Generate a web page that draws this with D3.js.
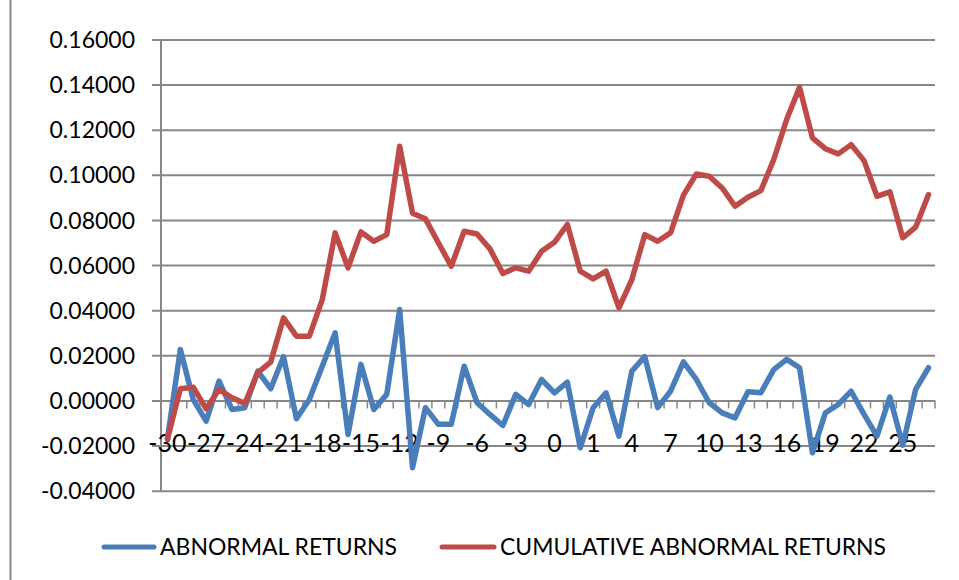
<!DOCTYPE html>
<html>
<head>
<meta charset="utf-8">
<script src="https://cdn.jsdelivr.net/npm/d3@7/dist/d3.min.js"></script>
<style>
  html, body { margin: 0; padding: 0; background: #ffffff; }
  svg { display: block; }
  text { font-family: "Lato", "Open Sans", "Liberation Sans", sans-serif; fill: #000; }
</style>
</head>
<body>
<svg id="chart" width="959" height="580"></svg>
<script>
// ---- data ----
const categories = [
  "-30","-29","-28","-27","-26","-25","-24","-23","-22","-21",
  "-20","-19","-18","-17","-16","-15","-14","-13","-12","-11",
  "-10","-9","-8","-7","-6","-5","-4","-3","-2","-1",
  "0","","","1","2","3","4","5","6","7",
  "8","9","10","11","12","13","14","15","16","17",
  "18","19","20","21","22","23","24","25","26","27"
];
const abnormalReturns = [
  -0.0170, 0.0226, 0.0004, -0.0092, 0.0086, -0.0040, -0.0032, 0.0130, 0.0052, 0.0194,
  -0.0081, 0.0004, 0.0152, 0.0300, -0.0151, 0.0160, -0.0040, 0.0027, 0.0403, -0.0298,
  -0.0032, -0.0106, -0.0106, 0.0152, -0.0010, -0.0062, -0.0111, 0.0027, -0.0018, 0.0093,
  0.0034, 0.0081, -0.0210, -0.0032, 0.0034, -0.0158, 0.0130, 0.0194, -0.0032, 0.0041,
  0.0171, 0.0093, -0.0010, -0.0055, -0.0077, 0.0039, 0.0034, 0.0137, 0.0182, 0.0145,
  -0.0232, -0.0055, -0.0018, 0.0041, -0.0062, -0.0158, 0.0015, -0.0198, 0.0049, 0.0145
];
const cumulativeAbnormalReturns = [
  -0.0170, 0.0052, 0.0059, -0.0037, 0.0049, 0.0012, -0.0013, 0.0123, 0.0170, 0.0366,
  0.0285, 0.0285, 0.0447, 0.0743, 0.0588, 0.0747, 0.0706, 0.0735, 0.1127, 0.0830,
  0.0805, 0.0699, 0.0595, 0.0750, 0.0738, 0.0672, 0.0563, 0.0588, 0.0573, 0.0661,
  0.0701, 0.0780, 0.0573, 0.0539, 0.0573, 0.0411, 0.0536, 0.0735, 0.0706, 0.0743,
  0.0910, 0.1004, 0.0994, 0.0942, 0.0861, 0.0901, 0.0930, 0.1068, 0.1245, 0.1388,
  0.1164, 0.1116, 0.1093, 0.1134, 0.1063, 0.0905, 0.0925, 0.0721, 0.0768, 0.0913
];
const yTicks = [-0.04, -0.02, 0, 0.02, 0.04, 0.06, 0.08, 0.10, 0.12, 0.14, 0.16];
const seriesNames = ["ABNORMAL RETURNS", "CUMULATIVE ABNORMAL RETURNS"];
const seriesColors = ["#4A7EBB", "#BE4B48"];

// ---- layout ----
const svg = d3.select("#chart");
const plotLeft = 161, plotRight = 935, plotTop = 39.5, plotBottom = 490.7;
const gridColor = "#878787";
const fmt = d3.formatLocale({ decimal: ".", thousands: ",", grouping: [3], currency: ["", ""], minus: "-" }).format(".5f");

const x = d3.scaleBand()
  .domain(d3.range(categories.length))
  .range([plotLeft, plotRight])
  .padding(0);
const y = d3.scaleLinear()
  .domain([-0.04, 0.16])
  .range([plotBottom, plotTop]);

// outer chart border (left edge visible)
svg.append("line")
  .attr("x1", 10.5).attr("x2", 10.5).attr("y1", 0).attr("y2", 580)
  .attr("stroke", gridColor).attr("stroke-width", 2);

// horizontal gridlines + y axis labels
const yAxis = d3.axisLeft(y)
  .tickValues(yTicks)
  .tickSize(-(plotRight - plotLeft))
  .tickPadding(17)
  .tickFormat(fmt);
const gy = svg.append("g")
  .attr("transform", `translate(${plotLeft},0)`)
  .call(yAxis);
gy.select(".domain").remove();
gy.selectAll(".tick line")
  .attr("x1", -9)
  .attr("stroke", gridColor)
  .attr("stroke-width", 2);
gy.selectAll(".tick text")
  .style("font-size", "23px")
  .attr("x", -26)
  .attr("dy", "0.35em");

// vertical axis line
svg.append("line")
  .attr("x1", plotLeft).attr("x2", plotLeft)
  .attr("y1", plotTop).attr("y2", plotBottom)
  .attr("stroke", gridColor).attr("stroke-width", 2);

// category axis at y = 0 : tick marks at band boundaries
const boundaries = d3.range(categories.length).map(i => x(i)).concat([x.range()[1]]);
svg.append("g")
  .selectAll("line")
  .data(boundaries)
  .join("line")
  .attr("x1", d => d).attr("x2", d => d)
  .attr("y1", y(0)).attr("y2", y(0) + 8)
  .attr("stroke", gridColor).attr("stroke-width", 1.5);

// category labels (every 3rd)
const labelIdx = d3.range(0, categories.length, 3);
svg.append("g")
  .selectAll("text")
  .data(labelIdx)
  .join("text")
  .attr("x", i => x(i) + x.bandwidth() / 2)
  .attr("y", 443)
  .attr("dy", "0.35em")
  .attr("text-anchor", "middle")
  .style("font-size", "25px")
  .text(i => categories[i]);

// series lines
const line = d3.line()
  .x((d, i) => x(i) + x.bandwidth() / 2)
  .y(d => y(d));
[abnormalReturns, cumulativeAbnormalReturns].forEach((s, k) => {
  svg.append("path")
    .datum(s)
    .attr("d", line)
    .attr("fill", "none")
    .attr("stroke", seriesColors[k])
    .attr("stroke-width", 5.5)
    .attr("stroke-linejoin", "round")
    .attr("stroke-linecap", "round");
});

// legend
const legendItems = [
  { x1: 104, x2: 154, tx: 160, tw: 237 },
  { x1: 442, x2: 494, tx: 500, tw: 386 }
];
legendItems.forEach((it, k) => {
  svg.append("line")
    .attr("x1", it.x1).attr("x2", it.x2)
    .attr("y1", 547).attr("y2", 547)
    .attr("stroke", seriesColors[k])
    .attr("stroke-width", 5)
    .attr("stroke-linecap", "round");
  svg.append("text")
    .attr("x", it.tx)
    .attr("y", 547)
    .attr("dy", "0.35em")
    .attr("textLength", it.tw)
    .attr("lengthAdjust", "spacingAndGlyphs")
    .style("font-size", "24px")
    .text(seriesNames[k]);
});
</script>
</body>
</html>
